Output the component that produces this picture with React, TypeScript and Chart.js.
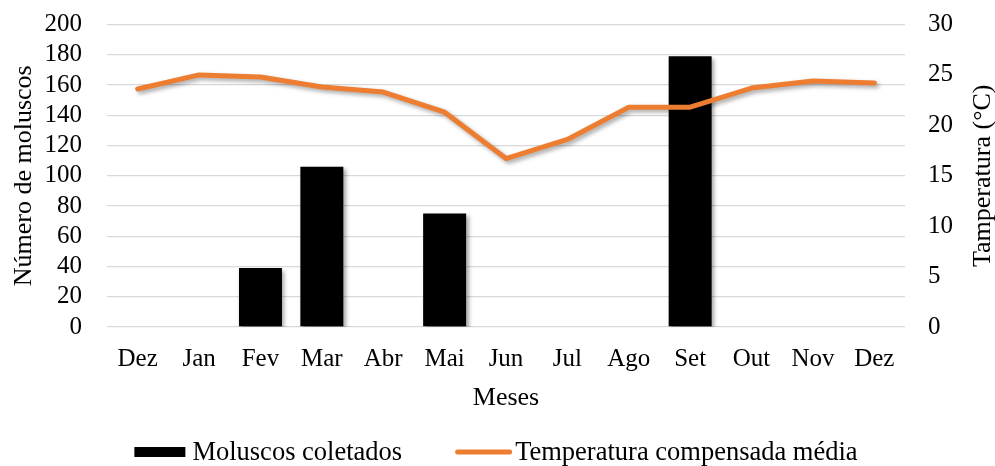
import React, { useEffect, useRef } from 'react';
import { Chart, registerables } from 'chart.js';

Chart.register(...registerables);

const months = ['Dez', 'Jan', 'Fev', 'Mar', 'Abr', 'Mai', 'Jun', 'Jul', 'Ago', 'Set', 'Out', 'Nov', 'Dez'];
const molluscs = [0, 0, 39, 106, 0, 75, 0, 0, 0, 179, 0, 0, 0];
const temperature = [23.6, 25.0, 24.8, 23.8, 23.3, 21.3, 16.7, 18.6, 21.8, 21.8, 23.7, 24.4, 24.2];
const barLabel = 'Moluscos coletados';
const lineLabel = 'Temperatura compensada média';
const leftTitle = 'Número de moluscos';
const rightTitle = 'Tamperatura (°C)';
const xTitle = 'Meses';

const FONT = "'Liberation Serif', 'Times New Roman', serif";
const ORANGE = '#ED7D31';
const TEXT = '#000000';
const GRID = '#D9D9D9';

const shadowPlugin = {
  id: 'shadowPlugin',
  beforeDatasetsDraw(chart: any) {
    const ctx = chart.ctx;
    ctx.save();
    ctx.shadowColor = 'rgba(0,0,0,0.35)';
    ctx.shadowBlur = 4;
    ctx.shadowOffsetX = 2.5;
    ctx.shadowOffsetY = 2.5;
  },
  afterDatasetsDraw(chart: any) {
    chart.ctx.restore();
  },
};

const extrasPlugin = {
  id: 'extrasPlugin',
  afterDraw(chart: any) {
    const ctx = chart.ctx;
    const area = chart.chartArea;
    // right axis title, reading bottom-to-top
    ctx.save();
    ctx.fillStyle = TEXT;
    ctx.font = `26px ${FONT}`;
    ctx.textAlign = 'center';
    ctx.textBaseline = 'middle';
    ctx.translate(chart.width - 12, (area.top + area.bottom) / 2);
    ctx.rotate(-Math.PI / 2);
    ctx.fillText(rightTitle, 0, 0);
    ctx.restore();

    // legend
    ctx.save();
    ctx.font = `26.5px ${FONT}`;
    ctx.fillStyle = TEXT;
    ctx.textBaseline = 'middle';
    ctx.textAlign = 'left';
    const boxW = 51, boxH = 10, gap1 = 7;
    const lineW = 57, gap2 = 3, itemGap = 53;
    const w1 = ctx.measureText(barLabel).width;
    const w2 = ctx.measureText(lineLabel).width;
    const total = boxW + gap1 + w1 + itemGap + lineW + gap2 + w2;
    const cy = 452;
    let x = chart.width / 2 - total / 2 - 1.5;
    ctx.fillStyle = '#000000';
    ctx.fillRect(x, cy - boxH / 2, boxW, boxH);
    x += boxW + gap1;
    ctx.fillStyle = TEXT;
    ctx.fillText(barLabel, x, cy + 1);
    x += w1 + itemGap;
    ctx.strokeStyle = ORANGE;
    ctx.lineWidth = 5;
    ctx.lineCap = 'round';
    ctx.beginPath();
    ctx.moveTo(x + 2.5, cy);
    ctx.lineTo(x + lineW - 2.5, cy);
    ctx.stroke();
    x += lineW + gap2;
    ctx.fillText(lineLabel, x, cy + 1);
    ctx.restore();
  },
};

export default function App() {
  const canvasRef = useRef<HTMLCanvasElement | null>(null);

  useEffect(() => {
    const canvas = canvasRef.current;
    if (!canvas) return;
    const chart = new Chart(canvas, {
      type: 'bar',
      data: {
        labels: months,
        datasets: [
          {
            type: 'line',
            label: lineLabel,
            data: temperature,
            yAxisID: 'y1',
            borderColor: ORANGE,
            backgroundColor: ORANGE,
            borderWidth: 5,
            pointRadius: 0,
            tension: 0,
            borderJoinStyle: 'round',
            borderCapStyle: 'round',
            order: 0,
          } as any,
          {
            type: 'bar',
            label: barLabel,
            data: molluscs,
            yAxisID: 'y',
            backgroundColor: '#000000',
            borderWidth: 0,
            barPercentage: 0.7,
            categoryPercentage: 1,
            order: 1,
          } as any,
        ],
      },
      options: {
        responsive: false,
        animation: false,
        devicePixelRatio: 1,
        events: [],
        layout: { padding: { top: 24.5, bottom: 52.4, left: 0, right: 0 } },
        plugins: {
          legend: { display: false },
          tooltip: { enabled: false },
        },
        scales: {
          x: {
            offset: true,
            grid: { display: false, drawTicks: false },
            border: { display: false },
            ticks: { color: TEXT, font: { family: FONT, size: 25 }, padding: 17, maxRotation: 0, autoSkip: false },
            title: { display: true, text: xTitle, color: TEXT, font: { family: FONT, size: 26 }, padding: { top: 8, bottom: 0 } },
            afterFit(scale: any) { scale.height = 86.6; },
          },
          y: {
            position: 'left',
            min: 0,
            max: 200,
            ticks: { stepSize: 20, autoSkip: false, color: TEXT, font: { family: FONT, size: 25 }, padding: 25 },
            grid: { color: GRID, lineWidth: 1.3, drawTicks: false },
            border: { display: false },
            title: { display: true, text: leftTitle, color: TEXT, font: { family: FONT, size: 26 }, padding: { top: 8.5, bottom: 0 } },
            afterFit(scale: any) { scale.width = 107; scale.paddingTop = 0; scale.paddingBottom = 0; },
          },
          y1: {
            position: 'right',
            min: 0,
            max: 30,
            ticks: { stepSize: 5, autoSkip: false, color: TEXT, font: { family: FONT, size: 25 }, padding: 23 },
            grid: { drawOnChartArea: false, drawTicks: false },
            border: { display: false },
            afterFit(scale: any) { scale.width = 90; scale.paddingTop = 0; scale.paddingBottom = 0; },
          },
        },
      },
      plugins: [shadowPlugin, extrasPlugin],
    });
    return () => chart.destroy();
  }, []);

  return (
    <div style={{ position: 'fixed', left: 0, top: 0, width: 995, height: 466, background: '#fff' }}>
      <canvas ref={canvasRef} width={995} height={466} style={{ display: 'block', width: 995, height: 466 }} />
    </div>
  );
}
